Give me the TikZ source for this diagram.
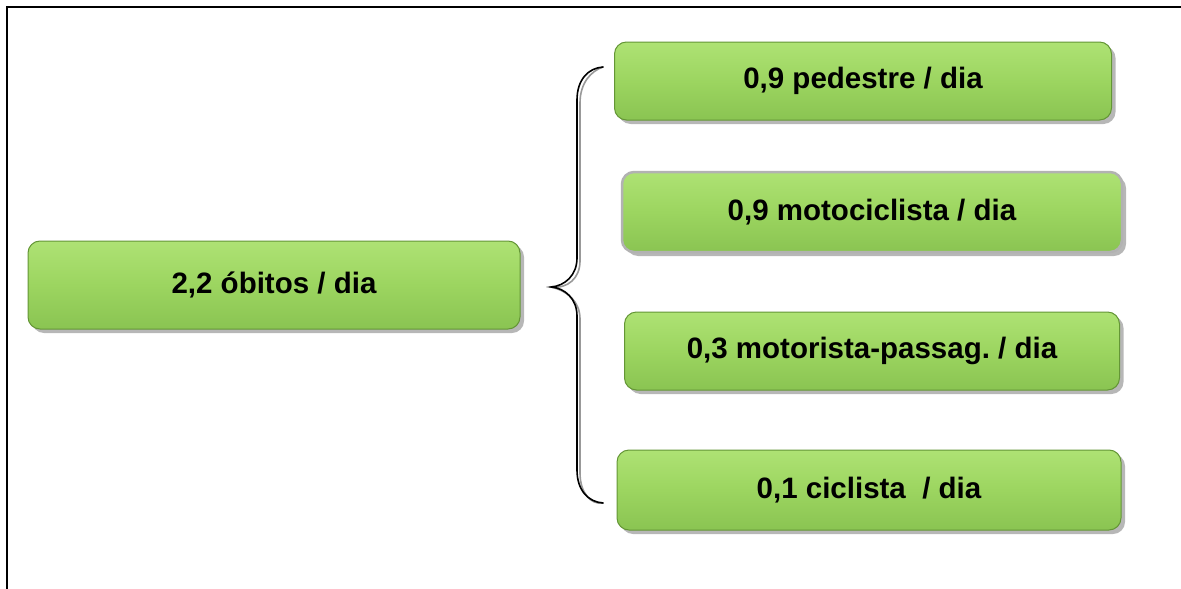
\documentclass[tikz,border=0pt]{standalone}
\usepackage{fontspec}
\setmainfont{Liberation Sans}
\usetikzlibrary{shadows}
\definecolor{boxgreen}{RGB}{156,213,96}
\definecolor{boxlight}{RGB}{174,226,116}
\definecolor{boxdark}{RGB}{138,196,82}
\definecolor{boxedge}{RGB}{100,150,54}
\tikzset{
  greenbox/.style={rounded corners=12pt, draw=boxedge, line width=1pt,
    top color=boxlight, bottom color=boxdark, middle color=boxgreen,
    drop shadow={shadow xshift=4pt, shadow yshift=-4pt, opacity=0.4, fill=black!70},
    font=\bfseries\fontsize{29.5}{33}\selectfont, align=center, inner sep=0pt},
  bracestroke/.style={line width=1.6pt, line cap=round}
}
\frenchspacing
\begin{document}
\begin{tikzpicture}[x=1pt,y=-1pt]
\useasboundingbox (0,0) rectangle (1181,589);
\draw[line width=2pt] (7,589) -- (7,7) -- (1181,7);
\node (total) [greenbox, minimum width=492pt, minimum height=88pt] at (274,285) {2,2 óbitos / dia};
\node (pedestre) [greenbox, minimum width=497pt, minimum height=78pt] at (863,81) {0,9 pedestre / dia};
\node (moto) [greenbox, draw=black!30, line width=2.5pt, minimum width=500pt, minimum height=80pt] at (872,212) {0,9 motociclista / dia};
\node (motorista) [greenbox, minimum width=495pt, minimum height=78pt] at (872,351) {0,3 motorista-passag. / dia};
\node (ciclista) [greenbox, minimum width=504pt, minimum height=80pt] at (869,490) {0,1 ciclista~ / dia};
% brace
\coordinate (bracetop) at (603,67);
\coordinate (bracetip) at (551,287);
\coordinate (bracebot) at (603,503);
\draw[bracestroke, black!40, shift={(3,3)}] (bracetop) .. controls (588,68) and (577,80) .. (577,100) -- (577,258)
    .. controls (577,275) and (565,286) .. (bracetip) .. controls (565,288) and (577,299) .. (577,316)
    -- (577,470) .. controls (577,490) and (588,502) .. (bracebot);
\draw[bracestroke] (bracetop) .. controls (588,68) and (577,80) .. (577,100) -- (577,258)
    .. controls (577,275) and (565,286) .. (bracetip) .. controls (565,288) and (577,299) .. (577,316)
    -- (577,470) .. controls (577,490) and (588,502) .. (bracebot);
\end{tikzpicture}
\end{document}
